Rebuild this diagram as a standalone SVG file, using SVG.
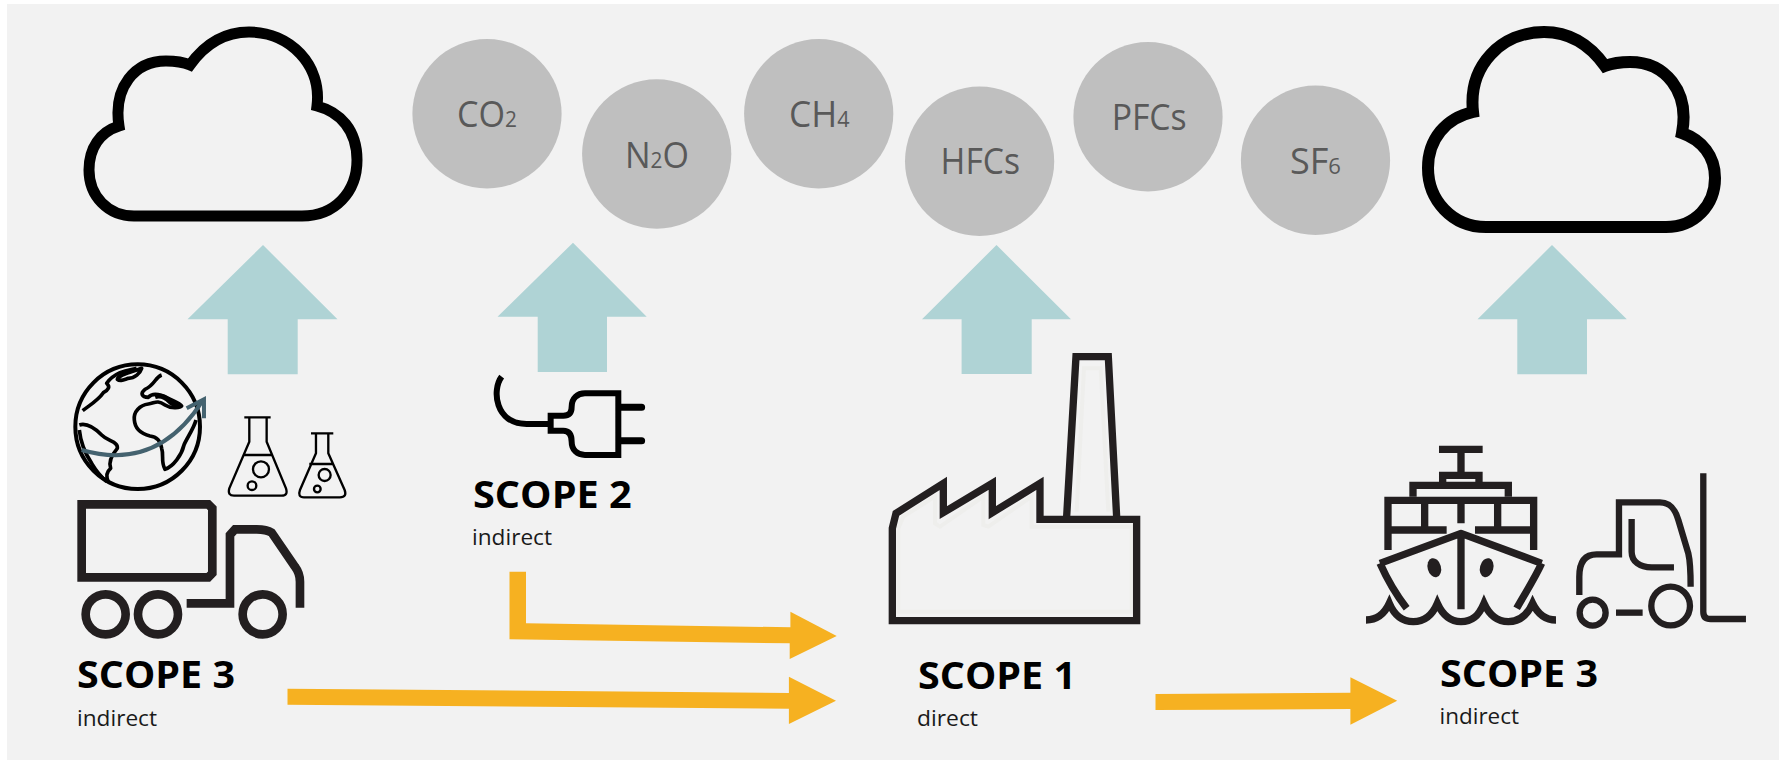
<svg xmlns="http://www.w3.org/2000/svg" width="1784" height="760" viewBox="0 0 1784 760">
<style>
text{font-family:"Open Sans","Noto Sans",sans-serif}
.gas{fill:#bfbfbf}
.gt{fill:#595959;font-size:36px}
.gt tspan{font-size:22px}
.sc{fill:#000;font-size:38px;font-weight:700}
.su{fill:#1a1a1a;font-size:22px}
.cl{fill:none;stroke:#000;stroke-miterlimit:8}
.up{fill:#afd3d5}
.or{fill:#f6b121}
.ic{fill:none;stroke:#231f20;stroke-miterlimit:6}
.k{fill:none;stroke:#000}
</style>
<rect width="1784" height="760" fill="#fff"/>
<rect x="7" y="4" width="1772" height="756" fill="#f2f2f2"/>

<g id="cloud-left"><path class="cl" stroke-width="11" d="M190,65C205,44 225,32 249,32C290,32 322,65 317,106C340,112 357,130 357,160C357,192 335,216 302,216H134C108,216 89,196 89,170C89,148 100,132 119,126C113,87 135,61 166,61C175,61 183,62 190,65Z"/></g>
<g id="cloud-right"><path class="cl" stroke-width="12" d="M1605,66C1590,45 1570,32 1544,32C1502,32 1468,65 1473,112C1446,118 1428,139 1428,168C1428,200 1452,227 1486,227H1666C1695,227 1715,205 1715,178C1715,156 1702,140 1682,133C1690,91 1665,62 1630,62C1621,62 1613,63 1605,66Z"/></g>

<g id="gas-co2"><ellipse class="gas" cx="487" cy="113.7" rx="74.6" ry="74.7"/><text class="gt" x="457" y="127.3" textLength="60" lengthAdjust="spacingAndGlyphs">CO<tspan>2</tspan></text></g>
<g id="gas-n2o"><ellipse class="gas" cx="656.7" cy="154" rx="74.6" ry="74.7"/><text class="gt" x="625" y="168.3" textLength="64" lengthAdjust="spacingAndGlyphs">N<tspan>2</tspan>O</text></g>
<g id="gas-ch4"><ellipse class="gas" cx="818.7" cy="113.7" rx="74.6" ry="74.7"/><text class="gt" x="789" y="127.3" textLength="60.5" lengthAdjust="spacingAndGlyphs">CH<tspan>4</tspan></text></g>
<g id="gas-hfcs"><ellipse class="gas" cx="979.6" cy="161.2" rx="74.6" ry="74.7"/><text class="gt" x="940.6" y="174.3" textLength="79.4" lengthAdjust="spacingAndGlyphs">HFCs</text></g>
<g id="gas-pfcs"><ellipse class="gas" cx="1148" cy="116.8" rx="74.6" ry="74.7"/><text class="gt" x="1111.7" y="130" textLength="75" lengthAdjust="spacingAndGlyphs">PFCs</text></g>
<g id="gas-sf6"><ellipse class="gas" cx="1315.5" cy="160.3" rx="74.6" ry="74.7"/><text class="gt" x="1290" y="174.3" textLength="51" lengthAdjust="spacingAndGlyphs">SF<tspan>6</tspan></text></g>

<g id="connectors">
<polygon class="up" points="263,245 337.5,319.3 297.7,319.3 297.7,374.3 227.7,374.3 227.7,319.3 187.5,319.3"/>
<polygon class="up" points="573,242.7 646.7,316.7 607,316.7 607,372 537.7,372 537.7,316.7 497.5,316.7"/>
<polygon class="up" points="996.5,245 1071,319.3 1031.7,319.3 1031.7,374 961.6,374 961.6,319.3 922,319.3"/>
<polygon class="up" points="1552,245 1626.8,319.3 1587,319.3 1587,374.3 1517.3,374.3 1517.3,319.3 1477.5,319.3"/>
<polygon class="or" points="509.5,571.7 526,571.7 526,623.3 790.4,627.3 790.4,611.7 836.7,636 789.7,659 789.7,643.3 509.5,639.3"/>
<polygon class="or" points="287.5,688.7 788.9,693 788.9,676.7 836,700.7 788.9,724 788.9,708.7 287.5,704.7"/>
<polygon class="or" points="1155.5,694 1350.4,692.7 1350.4,677.3 1397.2,700.7 1350.4,724.7 1350.4,709 1155.5,710"/>
</g>

<g id="scope3-left">
<g transform="translate(40,340) scale(.3333)">
<circle class="k" cx="293" cy="260" r="187" stroke-width="12"/>
<g class="k" stroke-width="11" stroke-linejoin="round">
<path d="M128,212C150,195 175,180 190,158C205,150 212,140 200,130C210,115 225,105 240,98C260,90 280,88 290,85"/>
<path d="M232,118C235,105 260,100 305,85C300,100 285,115 265,115C250,120 240,125 232,118Z"/>
<path d="M365,105C345,112 345,135 315,148C300,160 305,172 325,172C340,155 365,165 385,175C405,185 420,190 425,198C420,205 390,205 375,195C350,178 345,190 325,192C300,195 280,215 283,240C285,268 305,282 330,288C350,290 362,305 365,325C372,345 362,365 375,388C400,380 425,345 432,315C440,295 462,265 468,240"/>
<path d="M345,170C360,165 375,170 390,185C400,195 415,195 420,197" stroke-width="15"/>
<path d="M118,255C140,248 165,265 185,285C205,305 235,305 232,325C215,345 205,365 212,385C200,395 198,410 205,425"/>
<path d="M118,270C122,310 135,340 155,370C170,395 185,412 200,425"/>
</g>
<path d="M125,330C280,375 400,320 488,182" fill="none" stroke="#44626f" stroke-width="12"/>
<path d="M440,205L492,178L492,235" fill="none" stroke="#44626f" stroke-width="12"/>
<g class="k" stroke-width="7">
<path d="M613,232H692M628,232V305L568,445Q562,467 582,467H725Q745,467 738,445L680,305V232M610,345H695"/>
<circle cx="663" cy="388" r="24"/><circle cx="636" cy="437" r="13"/>
<path d="M813,280H880M828,280V340L780,450Q772,472 792,472H900Q922,472 914,450L865,340V280M808,372H877"/>
<circle cx="854" cy="405" r="18"/><circle cx="832" cy="447" r="10"/>
</g>
<g class="ic" stroke-width="26">
<path d="M125,493H505L517,505V700L505,712H125Z"/>
<path d="M440,790H570V585L585,568H650Q680,568 695,578L765,680Q780,700 780,725V803"/>
<circle cx="197" cy="823" r="60"/><circle cx="354" cy="823" r="60"/><circle cx="668" cy="823" r="60"/>
</g>
</g>
<text class="sc" x="77" y="688" textLength="158" lengthAdjust="spacingAndGlyphs">SCOPE 3</text>
<text class="su" x="77" y="725.7" textLength="80" lengthAdjust="spacingAndGlyphs">indirect</text>
</g>

<g id="scope2">
<g transform="translate(460,360) scale(.3333)">
<g class="k" stroke-width="18">
<path d="M125,50C95,90 105,192 200,192H268"/>
<path d="M272,167H310C330,167 335,155 335,140C335,115 352,100 375,100H475V285H375C352,285 335,270 335,245C335,222 325,212 310,212H272Z"/>
</g>
<path d="M480,142H545M480,242H545" class="k" stroke-width="21" stroke-linecap="round"/>
</g>
<text class="sc" x="473" y="507.7" textLength="158.7" lengthAdjust="spacingAndGlyphs">SCOPE 2</text>
<text class="su" x="472" y="545" textLength="80" lengthAdjust="spacingAndGlyphs">indirect</text>
</g>

<g id="scope1">
<g transform="translate(860,340) scale(.3333)">
<path d="M115,815V565L130,530L225,470V550L240,560L370,470V555L385,560L515,470V560H815V815Z M650,515L672,85H722L745,515" fill="none" stroke="#eeeeec" stroke-width="12"/>
<g class="ic" stroke-width="22">
<path d="M97,842V565L108,520L250,430V518L397,430V518L540,430V538H830V842Z"/>
<path d="M620,530L648,50H745L770,530"/>
</g>
</g>
<text class="sc" x="918" y="689.3" textLength="158" lengthAdjust="spacingAndGlyphs">SCOPE 1</text>
<text class="su" x="917" y="726" textLength="61" lengthAdjust="spacingAndGlyphs">direct</text>
</g>

<g id="scope3-right">
<g transform="translate(1340,420) scale(.3333)">
<g class="ic" stroke-width="22">
<path d="M297,88H428M363,88V165M308,190V166H417V190M219,230V196H505V230"/>
<path d="M144,390V241H581V390M144,330H320M405,330H581M254,241V340M363,241V310M473,241V340"/>
<path d="M120,430L363,340L605,430M363,340V568M120,430C140,475 165,520 200,565M605,430C585,475 555,520 530,565" stroke-linejoin="round"/>
<path d="M78,600C110,600 132,585 148,550C165,590 190,605 220,605C250,605 275,590 292,550C310,590 335,605 363,605C395,605 415,590 432,550C450,590 475,605 505,605C535,605 560,590 578,550C595,585 620,600 648,600"/>
</g>
<ellipse cx="283" cy="443" rx="20" ry="29" transform="rotate(-15 283 443)" fill="#231f20"/>
<ellipse cx="440" cy="443" rx="20" ry="29" transform="rotate(15 440 443)" fill="#231f20"/>
<g class="ic" stroke-width="19">
<path d="M1090,160V575Q1090,597 1112,597H1218"/>
<path d="M718,525V470C718,425 735,403 770,403H837V247H960C990,247 1005,265 1015,300L1045,400C1052,430 1052,460 1052,500"/>
<path d="M875,297V395C875,425 900,442 935,442H1002"/>
<circle cx="758" cy="578" r="39"/><circle cx="992" cy="558" r="58"/>
<path d="M828,578H908"/>
</g>
</g>
<text class="sc" x="1440" y="686.7" textLength="158" lengthAdjust="spacingAndGlyphs">SCOPE 3</text>
<text class="su" x="1439.5" y="724" textLength="79.5" lengthAdjust="spacingAndGlyphs">indirect</text>
</g>
</svg>
